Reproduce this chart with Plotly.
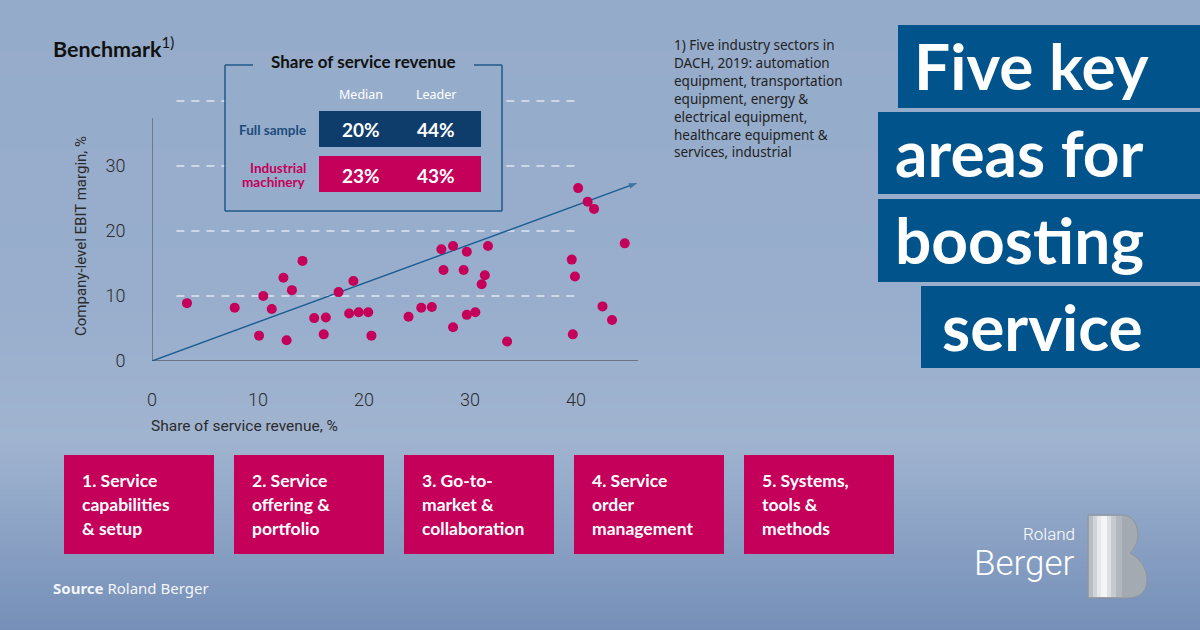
import plotly.graph_objects as go

W, H = 1200, 630

# ---------------- data ----------------
share_service = [3.3, 7.8, 10.5, 10.1, 11.3, 12.4, 12.7, 13.2, 14.2, 15.3, 16.2, 16.4, 17.6, 18.6, 19.0,
                 19.5, 20.4, 20.7, 22.1,
                 24.2, 25.4, 26.4, 28.4, 27.3, 28.4, 29.7, 27.5, 29.4, 29.7, 30.5, 31.4, 31.1, 31.7,
                 33.5, 39.6, 39.9, 39.7, 40.2, 41.1, 41.7, 44.6, 42.5, 43.4]
ebit_margin = [8.9, 8.2, 10.0, 3.9, 8.0, 12.8, 3.2, 10.9, 15.4, 6.6, 4.1, 6.7, 10.6, 7.3, 12.3,
               7.5, 7.5, 3.9, -0.2,
               6.8, 8.2, 8.3, 5.2, 17.2, 17.7, 16.8, 14.0, 14.0, 7.1, 7.5, 13.2, 11.8, 17.7,
               3.0, 15.6, 13.0, 4.1, 26.6, 24.5, 23.4, 18.1, 8.4, 6.3]
trend_x = [0, 45.8]
trend_y = [0, 27.4]
x_ticks = [0, 10, 20, 30, 40]
y_ticks = [0, 10, 20, 30]
grid_levels = [10, 20, 30, 40]

table_title = "Share of service revenue"
table_cols = ["Median", "Leader"]
table_rows = [["Full sample"], ["Industrial", "machinery"]]
median_share = [20, 23]
leader_share = [44, 43]

title_lines = ["Five key", "areas for", "boosting", "service"]
key_areas = [["1. Service", "capabilities", "& setup"],
             ["2. Service", "offering &", "portfolio"],
             ["3. Go-to-", "market &", "collaboration"],
             ["4. Service", "order", "management"],
             ["5. Systems,", "tools &", "methods"]]
footnote_lines = ["1) Five industry sectors in", "DACH, 2019: automation", "equipment, transportation",
                  "equipment, energy &", "electrical equipment,", "healthcare equipment &",
                  "services, industrial"]

# ---------------- styles ----------------
MAGENTA = "#C4005A"
TITLE_BLUE = "#00548B"
NAVY = "#0F3D6B"
LINE_BLUE = "#1A5C92"


def X(px):
    return min(max(px / W, 0), 1)


def Y(py):
    return min(max(1 - py / H, 0), 1)


shapes = []
annotations = []


def rect(x0, y0, x1, y1, fill, layer="below", line=None):
    shapes.append(dict(type="rect", xref="paper", yref="paper", x0=X(x0), x1=X(x1), y0=Y(y1), y1=Y(y0),
                       fillcolor=fill, line=line or dict(width=0), layer=layer))


def seg(x0, y0, x1, y1, color, width=1.5, layer="above", dash=None):
    shapes.append(dict(type="line", xref="paper", yref="paper", x0=X(x0), x1=X(x1), y0=Y(y0), y1=Y(y1),
                       line=dict(color=color, width=width, dash=dash), layer=layer))


def txt(x, y, s, size, color, family="Lato", weight=400, xa="left", ya="middle", angle=0):
    annotations.append(dict(x=X(x), y=Y(y), xref="paper", yref="paper", text=s, showarrow=False,
                            font=dict(size=size, color=color, family=family, weight=weight),
                            xanchor=xa, yanchor=ya, textangle=angle, borderpad=0))


# background gradient
stops = [(0, (149, 171, 202)), (300, (152, 174, 204)), (440, (160, 180, 208)), (630, (117, 143, 184))]


def bg_color(py):
    for (a, ca), (b, cb) in zip(stops[:-1], stops[1:]):
        if a <= py <= b:
            t = (py - a) / (b - a)
            return "rgb(%d,%d,%d)" % tuple(round(ca[i] + (cb[i] - ca[i]) * t) for i in range(3))
    return "rgb(%d,%d,%d)" % stops[-1][1]


step = 3
for py in range(0, H, step):
    rect(0, py, W, min(py + step + 1, H), bg_color(py + step / 2))

# gridlines (data coords)
for g in grid_levels:
    shapes.append(dict(type="line", xref="x", yref="y", x0=2.3, x1=40.3, y0=g, y1=g,
                       line=dict(color="rgba(235,240,248,0.85)", width=1.3, dash="8px,7px"), layer="below"))

# axis lines
shapes.append(dict(type="line", xref="x", yref="y", x0=0, x1=45.85, y0=0, y1=0,
                   line=dict(color="#6B7480", width=2), layer="below"))
shapes.append(dict(type="line", xref="x", yref="y", x0=0, x1=0, y0=0, y1=37.4,
                   line=dict(color="#555B63", width=1.2), layer="below"))

# ---------------- inset table ----------------
bx0, by0, bx1, by1 = 225, 65, 502, 211
rect(bx0, by0, bx1, by1, bg_color(140), layer="above")
seg(bx0, by0, bx0, by1, "#1F5A8A")
seg(bx1, by0, bx1, by1, "#1F5A8A")
seg(bx0, by1, bx1, by1, "#1F5A8A")
seg(bx0, by0, 253, by0, "#1F5A8A")
seg(474, by0, bx1, by0, "#1F5A8A")
txt(363, 62, "<b>%s</b>" % table_title, 17, "#111111", family="Lato", xa="center")
col_x = [361, 436]
for cx, c in zip(col_x, table_cols):
    txt(cx, 94, c, 12.5, "#FFFFFF", family="Noto Sans", xa="center")
row_y = [129, 174]
row_fill = [NAVY, MAGENTA]
row_label_color = ["#1B4B7D", MAGENTA]
for i, ry in enumerate(row_y):
    rect(319, ry - 18, 481, ry + 18, row_fill[i], layer="above")
    lines = table_rows[i]
    n = len(lines)
    for j, ln in enumerate(lines):
        txt(307, ry + (j - (n - 1) / 2) * 14 + 1, "<b>%s</b>" % ln, 13.5, row_label_color[i], xa="right")
    txt(col_x[0], ry + 1, "<b>%d%%</b>" % median_share[i], 19, "#FFFFFF", xa="center")
    txt(col_x[1], ry + 1, "<b>%d%%</b>" % leader_share[i], 19, "#FFFFFF", xa="center")

# ---------------- headings / texts ----------------
txt(52, 48, "<b>Benchmark</b><sup>1)</sup>", 21.5, "#111111", family="Lato")
for i, ln in enumerate(footnote_lines):
    txt(673, 45 + i * 17.9, ln, 13.5, "#222222", family="Noto Sans")
txt(81, 236, "Company-level EBIT margin, %", 15, "#2B2B2B", family="Roboto", xa="center", angle=-90)
txt(150, 426, "Share of service revenue, %", 15.5, "#2B2B2B", family="Roboto")

# title boxes
title_boxes = [(898, 25, 108), (878, 112, 194), (878, 199, 282), (921, 286, 368)]
title_text_x = [913, 894, 894, 941]
for (x0, y0, y1), tx, ln in zip(title_boxes, title_text_x, title_lines):
    rect(x0, y0, W, y1, TITLE_BLUE, layer="above")
    txt(tx, (y0 + y1) / 2 - 1, "<b>%s</b>" % ln, 64, "#FFFFFF", family="Lato")

# key area boxes
for k, lines in enumerate(key_areas):
    x0 = 64 + k * 170
    rect(x0, 455, x0 + 150, 554, MAGENTA, layer="above")
    for j, ln in enumerate(lines):
        txt(x0 + 17, 480 + j * 24, "<b>%s</b>" % ln, 17.5, "#FFFFFF", family="Lato")

txt(52, 588, "<b>Source</b> Roland Berger", 15, "#F3F5F8", family="Noto Sans")

# logo
txt(1076, 534, "Roland", 17, "#FFFFFF", family="Roboto", weight=300, xa="right")
txt(1076, 563, "Berger", 35, "#FFFFFF", family="Roboto", weight=300, xa="right")


def path_px(pts):
    out = []
    for p in pts:
        if isinstance(p, str):
            out.append(p)
        else:
            out.append("%.5f,%.5f" % (X(p[0]), Y(p[1])))
    return " ".join(out)


b_path = path_px(["M", (1088, 515), "L", (1122, 515), "C", (1132, 515), (1138, 524), (1138, 535),
                  "C", (1138, 543), (1134, 549), (1130, 553),
                  "C", (1141, 559), (1147, 569), (1147, 580),
                  "C", (1147, 592), (1139, 598), (1128, 598), "L", (1088, 598), "Z"])
shapes.append(dict(type="path", xref="paper", yref="paper", path=b_path, fillcolor="#A4AAB1",
                   line=dict(color="#8E949B", width=1), layer="above"))
strip_cols = [(1089, 1093, "#B8BDC3"), (1093, 1097, "#D0D4D8"), (1097, 1101, "#E6E8EB"),
              (1101, 1107, "#F4F5F6"), (1107, 1111, "#DDE0E3"), (1111, 1116, "#C6CACF"),
              (1116, 1122, "#B2B7BD")]
for a, b, c in strip_cols:
    rect(a, 516, b, 597, c, layer="above")

# ---------------- figure ----------------
fig = go.Figure()
fig.add_trace(go.Scatter(x=trend_x, y=trend_y, mode="lines+markers",
                         line=dict(color=LINE_BLUE, width=1.4),
                         marker=dict(symbol="arrow", angleref="previous", size=[0, 9], color=LINE_BLUE,
                                     line=dict(width=0)),
                         cliponaxis=False, hoverinfo="skip", showlegend=False))
fig.add_trace(go.Scatter(x=share_service, y=ebit_margin, mode="markers",
                         marker=dict(size=10, color=MAGENTA, line=dict(width=0)),
                         cliponaxis=False, hoverinfo="x+y", showlegend=False))

axis_font = dict(family="Roboto", size=18, color="#2B2B2B", weight=300)
fig.update_layout(
    width=W, height=H,
    margin=dict(l=0, r=0, t=0, b=0, pad=0, autoexpand=False),
    paper_bgcolor="rgb(149,171,202)",
    plot_bgcolor="rgba(0,0,0,0)",
    shapes=shapes,
    annotations=annotations,
    xaxis=dict(domain=[152 / W, (152 + 48 * 10.6) / W], range=[0, 48], tickvals=x_ticks,
               showgrid=False, zeroline=False, showline=False, ticks="outside", ticklen=22,
               tickcolor="rgba(0,0,0,0)", tickfont=axis_font, automargin=False, fixedrange=True),
    yaxis=dict(domain=[1 - 361 / H, 1 - 85 / H], range=[0, 276 / 6.5], tickvals=y_ticks,
               showgrid=False, zeroline=False, showline=False, ticks="outside", ticklen=22,
               tickcolor="rgba(0,0,0,0)", tickfont=axis_font, automargin=False, fixedrange=True),
    showlegend=False,
)

css_js = (
    "var s=document.createElement('style');"
    "s.textContent='html,body{margin:0!important;padding:0!important;overflow:hidden!important;"
    "width:1200px;height:630px;} body>div{margin:0;padding:0;line-height:0;}';"
    "document.head.appendChild(s);"
)
fig.write_html("out.html", config={"displayModeBar": False}, post_script=css_js)
